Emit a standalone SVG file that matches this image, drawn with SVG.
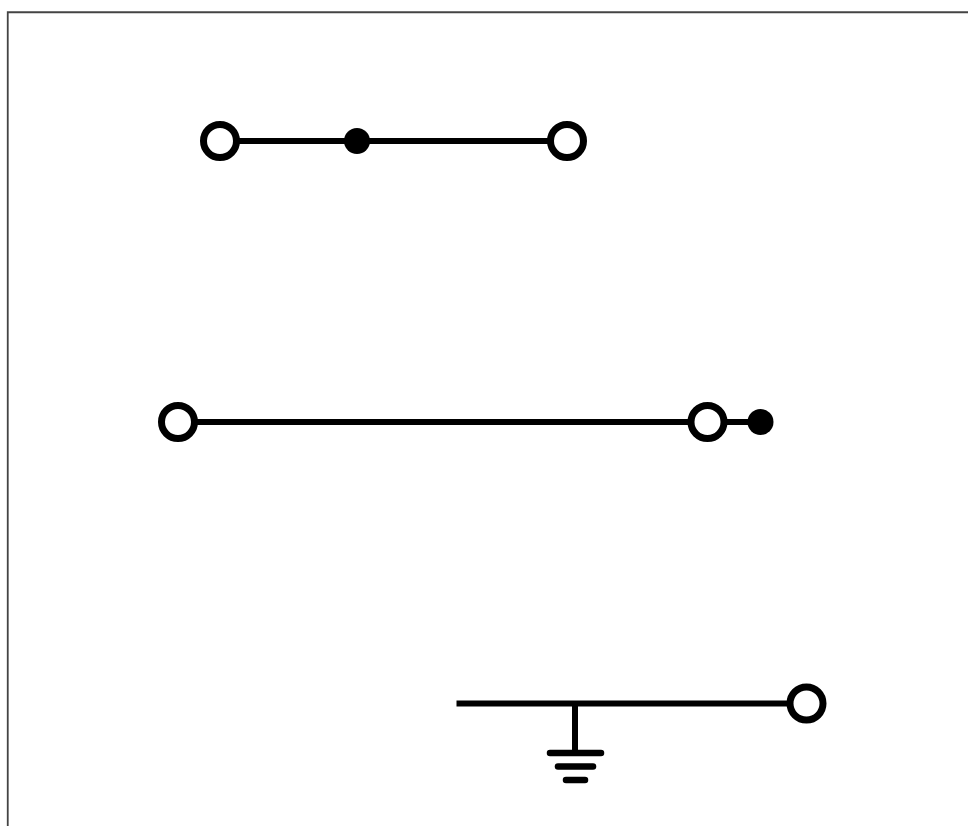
<svg xmlns="http://www.w3.org/2000/svg" width="968" height="826" viewBox="0 0 968 826">
<style>
.w{fill:none;stroke:#000;stroke-width:6}
.g{fill:none;stroke:#000;stroke-width:6.500;stroke-linecap:round}
.o{fill:#fff;stroke:#000;stroke-width:7}
.d{fill:#000}
</style>
<rect width="968" height="826" fill="#fff"/>
<path d="M7.750 826V12.250H968" fill="none" stroke="#444" stroke-width="1.800"/>
<g id="connectors">
<path class="w" d="M220 141H567"/>
<path class="w" d="M178 422H761"/>
<path class="w" d="M456.500 703.500H806"/>
<path class="w" d="M575 703.500V752"/>
<path class="g" d="M550 753H601"/>
<path class="g" d="M558 766.500H593"/>
<path class="g" d="M566 780H585"/>
</g>
<g id="n1"><circle class="o" cx="220" cy="141" r="16.500"/></g>
<g id="n2"><circle class="d" cx="357" cy="141" r="13"/></g>
<g id="n3"><circle class="o" cx="567" cy="141" r="16.500"/></g>
<g id="n4"><circle class="o" cx="178" cy="422" r="16.500"/></g>
<g id="n5"><circle class="o" cx="707.500" cy="422" r="16.500"/></g>
<g id="n6"><circle class="d" cx="760.500" cy="422" r="13"/></g>
<g id="n7"><circle class="o" cx="806.500" cy="703.500" r="16.500"/></g>
</svg>
